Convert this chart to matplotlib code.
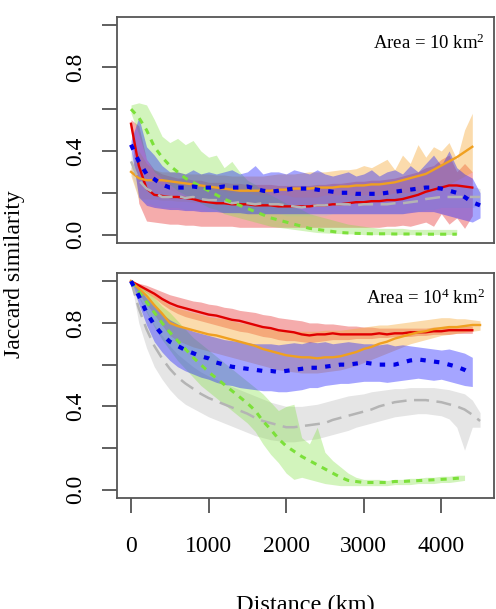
import numpy as np
import matplotlib
matplotlib.use('Agg')
import matplotlib.pyplot as plt

plt.rcParams['font.family'] = ['Liberation Serif', 'DejaVu Serif']
plt.rcParams['mathtext.fontset'] = 'custom'
plt.rcParams['mathtext.rm'] = 'Liberation Serif'
plt.rcParams['mathtext.it'] = 'Liberation Serif:italic'

# ── distance grid (km) ──────────────────────────────────────────────────────
DIST_KM = np.arange(0, 4600, 100)

# ── panel 1: Area = 10 km2 ──────────────────────────────────────────────────
top_red = [0.53, 0.33, 0.22, 0.19, 0.185, 0.18, 0.18, 0.175, 0.17, 0.16, 0.155, 0.15, 0.15, 0.145, 0.145,
           0.145, 0.14, 0.14, 0.14, 0.135, 0.135, 0.135, 0.135, 0.135, 0.14, 0.14, 0.145, 0.145, 0.15, 0.155,
           0.155, 0.16, 0.16, 0.165, 0.165, 0.17, 0.18, 0.19, 0.205, 0.215, 0.225, 0.235, 0.235, 0.23, 0.225]
top_red_hi = [0.55, 0.52, 0.36, 0.31, 0.29, 0.28, 0.27, 0.27, 0.26, 0.26, 0.25, 0.25, 0.25, 0.245, 0.245,
              0.24, 0.24, 0.24, 0.24, 0.235, 0.235, 0.235, 0.235, 0.235, 0.24, 0.24, 0.245, 0.245, 0.25, 0.255,
              0.255, 0.26, 0.26, 0.265, 0.27, 0.28, 0.29, 0.30, 0.32, 0.33, 0.36, 0.38, 0.30, 0.34, 0.30]
top_red_lo = [0.50, 0.15, 0.065, 0.06, 0.055, 0.05, 0.05, 0.045, 0.045, 0.04, 0.04, 0.04, 0.04, 0.04, 0.035,
              0.035, 0.035, 0.035, 0.035, 0.035, 0.035, 0.035, 0.035, 0.035, 0.035, 0.035, 0.035, 0.035, 0.035, 0.035,
              0.035, 0.035, 0.035, 0.04, 0.04, 0.045, 0.04, 0.05, 0.06, 0.04, 0.10, 0.05, 0.08, 0.03, 0.09]

top_orange = [0.30, 0.27, 0.26, 0.26, 0.26, 0.255, 0.25, 0.245, 0.24, 0.235, 0.23, 0.225, 0.22, 0.215, 0.21,
              0.21, 0.21, 0.21, 0.21, 0.215, 0.215, 0.22, 0.22, 0.22, 0.225, 0.225, 0.225, 0.23, 0.23, 0.235,
              0.235, 0.24, 0.24, 0.245, 0.25, 0.26, 0.27, 0.28, 0.29, 0.31, 0.33, 0.35, 0.37, 0.395, 0.42]
top_orange_hi = [0.32, 0.40, 0.34, 0.31, 0.30, 0.30, 0.30, 0.29, 0.29, 0.29, 0.29, 0.285, 0.285, 0.28, 0.28,
                 0.28, 0.28, 0.28, 0.285, 0.29, 0.29, 0.29, 0.295, 0.30, 0.30, 0.30, 0.305, 0.31, 0.31, 0.315,
                 0.33, 0.32, 0.34, 0.36, 0.31, 0.38, 0.34, 0.43, 0.37, 0.42, 0.40, 0.44, 0.36, 0.50, 0.58]
top_orange_lo = [0.28, 0.17, 0.17, 0.17, 0.165, 0.165, 0.16, 0.16, 0.155, 0.155, 0.15, 0.15, 0.145, 0.145, 0.14,
                 0.14, 0.14, 0.14, 0.14, 0.14, 0.14, 0.145, 0.145, 0.145, 0.15, 0.15, 0.15, 0.15, 0.155, 0.155,
                 0.155, 0.16, 0.16, 0.165, 0.17, 0.175, 0.18, 0.19, 0.20, 0.21, 0.22, 0.24, 0.26, 0.28, 0.30]

top_blue = [0.43, 0.35, 0.29, 0.265, 0.24, 0.225, 0.225, 0.225, 0.23, 0.225, 0.225, 0.225, 0.23, 0.225, 0.225,
            0.23, 0.22, 0.21, 0.205, 0.21, 0.215, 0.22, 0.22, 0.22, 0.215, 0.21, 0.205, 0.20, 0.20, 0.195,
            0.195, 0.195, 0.195, 0.20, 0.205, 0.21, 0.215, 0.22, 0.225, 0.225, 0.22, 0.21, 0.20, 0.18, 0.155, 0.14]
top_blue_hi = [0.45, 0.56, 0.42, 0.38, 0.33, 0.30, 0.30, 0.29, 0.31, 0.29, 0.30, 0.29, 0.30, 0.31, 0.29,
               0.30, 0.33, 0.29, 0.30, 0.30, 0.29, 0.31, 0.30, 0.29, 0.31, 0.29, 0.28, 0.29, 0.30, 0.28,
               0.29, 0.31, 0.28, 0.30, 0.31, 0.29, 0.33, 0.30, 0.34, 0.38, 0.33, 0.40, 0.32, 0.29, 0.27, 0.20]
top_blue_lo = [0.41, 0.18, 0.14, 0.13, 0.125, 0.12, 0.12, 0.115, 0.115, 0.11, 0.11, 0.11, 0.105, 0.105, 0.105,
               0.10, 0.10, 0.10, 0.10, 0.10, 0.10, 0.10, 0.10, 0.10, 0.10, 0.10, 0.10, 0.10, 0.10, 0.10,
               0.10, 0.10, 0.10, 0.10, 0.10, 0.10, 0.105, 0.11, 0.11, 0.11, 0.10, 0.09, 0.08, 0.07, 0.06, 0.08]

top_grey = [0.35, 0.26, 0.22, 0.20, 0.18, 0.18, 0.185, 0.175, 0.18, 0.17, 0.165, 0.165, 0.16, 0.15, 0.155,
            0.15, 0.145, 0.15, 0.145, 0.145, 0.14, 0.135, 0.13, 0.135, 0.14, 0.14, 0.145, 0.145, 0.145, 0.14,
            0.145, 0.145, 0.145, 0.145, 0.15, 0.15, 0.155, 0.16, 0.17, 0.175, 0.18, 0.18, 0.18, 0.18, 0.18, 0.18]
top_grey_hi = [0.40, 0.34, 0.28, 0.26, 0.24, 0.24, 0.24, 0.23, 0.23, 0.22, 0.22, 0.21, 0.21, 0.20, 0.20,
               0.20, 0.19, 0.19, 0.19, 0.19, 0.19, 0.18, 0.18, 0.18, 0.18, 0.19, 0.19, 0.19, 0.19, 0.19,
               0.19, 0.19, 0.19, 0.19, 0.20, 0.20, 0.20, 0.21, 0.21, 0.22, 0.22, 0.23, 0.23, 0.23, 0.23, 0.22]
top_grey_lo = [0.30, 0.17, 0.15, 0.14, 0.13, 0.13, 0.13, 0.12, 0.12, 0.12, 0.11, 0.11, 0.11, 0.10, 0.10,
               0.10, 0.10, 0.10, 0.10, 0.10, 0.09, 0.09, 0.09, 0.09, 0.09, 0.09, 0.10, 0.10, 0.10, 0.10,
               0.10, 0.10, 0.10, 0.10, 0.10, 0.10, 0.11, 0.11, 0.12, 0.12, 0.13, 0.13, 0.13, 0.13, 0.13, 0.14]

top_green = [0.60, 0.56, 0.50, 0.42, 0.37, 0.33, 0.30, 0.27, 0.25, 0.23, 0.21, 0.19, 0.17, 0.155, 0.14,
             0.125, 0.11, 0.095, 0.08, 0.07, 0.06, 0.05, 0.04, 0.03, 0.025, 0.02, 0.015, 0.01, 0.008, 0.006,
             0.005, 0.004, 0.004, 0.004, 0.003, 0.003, 0.003, 0.003, 0.002, 0.002, 0.002, 0.002, 0.002]
top_green_hi = [0.62, 0.63, 0.62, 0.55, 0.47, 0.44, 0.46, 0.43, 0.45, 0.40, 0.37, 0.38, 0.32, 0.35, 0.30,
                0.26, 0.24, 0.21, 0.19, 0.17, 0.15, 0.13, 0.12, 0.10, 0.09, 0.08, 0.07, 0.06, 0.05, 0.045,
                0.04, 0.035, 0.03, 0.03, 0.03, 0.03, 0.025, 0.025, 0.025, 0.025, 0.025, 0.025, 0.025]
top_green_lo = [0.58, 0.48, 0.36, 0.30, 0.27, 0.24, 0.21, 0.19, 0.17, 0.15, 0.13, 0.12, 0.10, 0.09, 0.08,
                0.07, 0.06, 0.05, 0.04, 0.035, 0.03, 0.025, 0.02, 0.015, 0.01, 0.008, 0.006, 0.005, 0.004, 0.003,
                0.0, 0.0, 0.0, 0.0, 0.0, 0.0, 0.0, 0.0, 0.0, 0.0, 0.0, 0.0, 0.0]

# ── panel 2: Area = 10^4 km2 ────────────────────────────────────────────────
bot_red = [1.00, 0.98, 0.96, 0.94, 0.915, 0.895, 0.88, 0.87, 0.86, 0.85, 0.84, 0.835, 0.825, 0.815, 0.81,
           0.80, 0.79, 0.78, 0.775, 0.765, 0.76, 0.755, 0.745, 0.74, 0.745, 0.745, 0.75, 0.745, 0.745, 0.745,
           0.745, 0.745, 0.75, 0.745, 0.75, 0.75, 0.755, 0.755, 0.755, 0.76, 0.76, 0.765, 0.765, 0.765, 0.765]
bot_red_hi = [1.00, 0.99, 0.98, 0.965, 0.95, 0.935, 0.925, 0.915, 0.905, 0.90, 0.89, 0.885, 0.875, 0.87, 0.86,
              0.855, 0.85, 0.84, 0.835, 0.825, 0.82, 0.815, 0.81, 0.80, 0.80, 0.795, 0.795, 0.79, 0.785, 0.785,
              0.78, 0.78, 0.775, 0.775, 0.775, 0.775, 0.775, 0.775, 0.775, 0.78, 0.78, 0.78, 0.78, 0.785, 0.785]
bot_red_lo = [1.00, 0.97, 0.945, 0.92, 0.89, 0.865, 0.845, 0.83, 0.82, 0.81, 0.80, 0.79, 0.78, 0.77, 0.76,
              0.755, 0.745, 0.735, 0.73, 0.72, 0.715, 0.715, 0.71, 0.705, 0.71, 0.715, 0.72, 0.72, 0.72, 0.725,
              0.725, 0.725, 0.73, 0.73, 0.735, 0.735, 0.735, 0.74, 0.74, 0.745, 0.745, 0.745, 0.75, 0.75, 0.75]

bot_orange = [1.00, 0.965, 0.93, 0.885, 0.845, 0.80, 0.785, 0.775, 0.765, 0.755, 0.745, 0.74, 0.73, 0.72, 0.71,
              0.70, 0.69, 0.675, 0.665, 0.655, 0.645, 0.64, 0.635, 0.635, 0.63, 0.635, 0.635, 0.64, 0.65, 0.66,
              0.675, 0.685, 0.70, 0.71, 0.725, 0.735, 0.745, 0.755, 0.76, 0.77, 0.775, 0.78, 0.78, 0.785, 0.79, 0.79]
bot_orange_hi = [1.00, 0.985, 0.96, 0.935, 0.91, 0.885, 0.87, 0.86, 0.85, 0.84, 0.83, 0.825, 0.82, 0.81, 0.80,
                 0.795, 0.785, 0.775, 0.77, 0.765, 0.76, 0.76, 0.76, 0.76, 0.76, 0.765, 0.765, 0.765, 0.77, 0.775,
                 0.78, 0.785, 0.79, 0.79, 0.795, 0.80, 0.805, 0.81, 0.815, 0.82, 0.825, 0.825, 0.82, 0.82, 0.815, 0.81]
bot_orange_lo = [1.00, 0.94, 0.89, 0.84, 0.79, 0.74, 0.715, 0.70, 0.685, 0.675, 0.665, 0.655, 0.645, 0.635, 0.625,
                 0.615, 0.605, 0.595, 0.585, 0.575, 0.57, 0.565, 0.56, 0.56, 0.56, 0.565, 0.57, 0.575, 0.585, 0.595,
                 0.61, 0.625, 0.64, 0.655, 0.67, 0.685, 0.70, 0.71, 0.72, 0.73, 0.74, 0.745, 0.75, 0.755, 0.76, 0.765]

bot_blue = [1.00, 0.93, 0.85, 0.79, 0.745, 0.71, 0.69, 0.67, 0.655, 0.64, 0.63, 0.61, 0.60, 0.59, 0.585,
            0.58, 0.575, 0.57, 0.57, 0.565, 0.57, 0.575, 0.58, 0.585, 0.585, 0.59, 0.595, 0.60, 0.60, 0.605,
            0.61, 0.605, 0.60, 0.60, 0.60, 0.61, 0.62, 0.625, 0.62, 0.615, 0.61, 0.60, 0.59, 0.575, 0.555]
bot_blue_hi = [1.00, 0.97, 0.92, 0.88, 0.845, 0.815, 0.795, 0.775, 0.76, 0.75, 0.74, 0.73, 0.72, 0.715, 0.71,
               0.705, 0.70, 0.70, 0.70, 0.695, 0.70, 0.705, 0.70, 0.71, 0.705, 0.71, 0.70, 0.705, 0.71, 0.705,
               0.70, 0.70, 0.695, 0.70, 0.69, 0.695, 0.69, 0.685, 0.68, 0.675, 0.67, 0.675, 0.665, 0.655, 0.635]
bot_blue_lo = [1.00, 0.89, 0.79, 0.71, 0.66, 0.62, 0.59, 0.57, 0.555, 0.54, 0.53, 0.515, 0.505, 0.50, 0.49,
               0.485, 0.48, 0.475, 0.475, 0.47, 0.47, 0.475, 0.48, 0.49, 0.49, 0.50, 0.505, 0.51, 0.51, 0.515,
               0.52, 0.52, 0.52, 0.515, 0.52, 0.525, 0.53, 0.535, 0.53, 0.525, 0.53, 0.52, 0.51, 0.50, 0.495]

bot_grey = [1.00, 0.87, 0.77, 0.69, 0.63, 0.58, 0.54, 0.51, 0.485, 0.46, 0.44, 0.425, 0.41, 0.395, 0.38,
            0.365, 0.345, 0.33, 0.32, 0.31, 0.30, 0.30, 0.305, 0.31, 0.315, 0.32, 0.335, 0.345, 0.355, 0.365,
            0.375, 0.385, 0.40, 0.41, 0.42, 0.425, 0.43, 0.43, 0.43, 0.425, 0.42, 0.41, 0.40, 0.385, 0.36, 0.33]
bot_grey_hi = [1.00, 0.93, 0.86, 0.79, 0.74, 0.69, 0.65, 0.62, 0.59, 0.565, 0.545, 0.53, 0.51, 0.495, 0.48,
               0.465, 0.45, 0.435, 0.42, 0.41, 0.40, 0.40, 0.40, 0.405, 0.41, 0.42, 0.43, 0.44, 0.45, 0.455,
               0.46, 0.47, 0.475, 0.48, 0.485, 0.485, 0.49, 0.49, 0.49, 0.49, 0.485, 0.48, 0.47, 0.46, 0.43, 0.37]
bot_grey_lo = [1.00, 0.80, 0.68, 0.59, 0.53, 0.48, 0.44, 0.41, 0.39, 0.37, 0.35, 0.335, 0.32, 0.305, 0.29,
               0.275, 0.26, 0.25, 0.24, 0.235, 0.23, 0.23, 0.235, 0.24, 0.245, 0.255, 0.265, 0.275, 0.285, 0.30,
               0.31, 0.32, 0.33, 0.34, 0.35, 0.355, 0.36, 0.365, 0.365, 0.36, 0.355, 0.34, 0.30, 0.19, 0.30, 0.30]

bot_green = [1.00, 0.95, 0.90, 0.85, 0.80, 0.755, 0.715, 0.675, 0.635, 0.60, 0.565, 0.535, 0.505, 0.475, 0.445,
             0.415, 0.38, 0.33, 0.29, 0.245, 0.21, 0.185, 0.16, 0.14, 0.12, 0.10, 0.08, 0.06, 0.045, 0.04,
             0.035, 0.035, 0.035, 0.035, 0.04, 0.04, 0.042, 0.044, 0.046, 0.048, 0.05, 0.052, 0.055, 0.058]
bot_green_hi = [1.00, 0.98, 0.95, 0.92, 0.88, 0.85, 0.81, 0.77, 0.73, 0.70, 0.67, 0.64, 0.61, 0.58, 0.55,
                0.52, 0.49, 0.46, 0.42, 0.38, 0.40, 0.41, 0.25, 0.22, 0.30, 0.18, 0.14, 0.11, 0.08, 0.06,
                0.05, 0.05, 0.05, 0.045, 0.05, 0.05, 0.055, 0.055, 0.06, 0.06, 0.065, 0.065, 0.07, 0.07]
bot_green_lo = [1.00, 0.92, 0.85, 0.78, 0.72, 0.67, 0.62, 0.58, 0.54, 0.50, 0.47, 0.44, 0.41, 0.38, 0.35,
                0.32, 0.28, 0.22, 0.17, 0.13, 0.08, 0.05, 0.06, 0.05, 0.04, 0.03, 0.025, 0.02, 0.02, 0.02,
                0.02, 0.02, 0.02, 0.02, 0.025, 0.025, 0.025, 0.03, 0.03, 0.03, 0.035, 0.035, 0.04, 0.045]

Y_TICKS = [0.0, 0.2, 0.4, 0.6, 0.8, 1.0]
Y_LABELS = ['0.0', '', '0.4', '', '0.8', '']
X_TICKS = [0, 1000, 2000, 3000, 4000]

# ── styles ──────────────────────────────────────────────────────────────────
STYLE = {
    'red':    dict(line='#E00000', band='#E83030', ls='-', lw=1.7, alpha=0.40),
    'orange': dict(line='#F0A020', band='#F5A530', ls='-', lw=1.7, alpha=0.40),
    'blue':   dict(line='#0000E6', band='#2020FF', ls=(0, (1.3, 2.0)), lw=3.0, alpha=0.40),
    'grey':   dict(line='#B4B4B4', band='#BEBEBE', ls=(0, (6, 3)), lw=1.8, alpha=0.40),
    'green':  dict(line='#7CE03A', band='#80E040', ls=(0, (2, 2)), lw=2.2, alpha=0.35),
}
ORDER = ['red', 'orange', 'grey', 'green', 'blue']


def draw_panel(ax, series, label):
    for key in ORDER:
        mean, lo, hi = series[key]
        st = STYLE[key]
        x = DIST_KM[:len(mean)]
        ax.fill_between(x, lo, hi, color=st['band'], alpha=st['alpha'], lw=0)
        ax.plot(x, mean, color=st['line'], ls=st['ls'], lw=st['lw'],
                zorder=5 if key == 'blue' else 3)
    ax.set_xlim(-180, 4680)
    ax.set_ylim(-0.04, 1.04)
    ax.set_yticks(Y_TICKS)
    ax.set_yticklabels(Y_LABELS, rotation=90, va='center', fontsize=17)
    ax.tick_params(axis='y', length=11, width=1.2, pad=11, color='#444444')
    for sp in ax.spines.values():
        sp.set_color('#555555')
        sp.set_linewidth(1.3)
    ax.text(0.975, 0.885, label, transform=ax.transAxes, ha='right', va='center',
            fontsize=13.5)


fig = plt.figure(figsize=(4.96, 6.09), dpi=100)
ax1 = fig.add_axes([0.236, 0.601, 0.760, 0.371])
ax2 = fig.add_axes([0.236, 0.182, 0.760, 0.370])

draw_panel(ax1, {
    'red': (top_red, top_red_lo, top_red_hi),
    'orange': (top_orange, top_orange_lo, top_orange_hi),
    'blue': (top_blue, top_blue_lo, top_blue_hi),
    'grey': (top_grey, top_grey_lo, top_grey_hi),
    'green': (top_green, top_green_lo, top_green_hi),
}, r'Area = 10 km$^2$')
ax1.set_xticks([])

draw_panel(ax2, {
    'red': (bot_red, bot_red_lo, bot_red_hi),
    'orange': (bot_orange, bot_orange_lo, bot_orange_hi),
    'blue': (bot_blue, bot_blue_lo, bot_blue_hi),
    'grey': (bot_grey, bot_grey_lo, bot_grey_hi),
    'green': (bot_green, bot_green_lo, bot_green_hi),
}, r'Area = 10$^4$ km$^2$')
ax2.set_xticks(X_TICKS)
ax2.set_xticklabels([str(v) for v in X_TICKS], fontsize=17)
ax2.tick_params(axis='x', length=11, width=1.2, pad=16, color='#444444')

fig.text(0.03, 0.55, 'Jaccard similarity', rotation=90, ha='center', va='center', fontsize=17)
fig.text(305.5 / 496, 0.024, 'Distance (km)', ha='center', va='top', fontsize=17.5)

fig.savefig('out.png', dpi=100)
